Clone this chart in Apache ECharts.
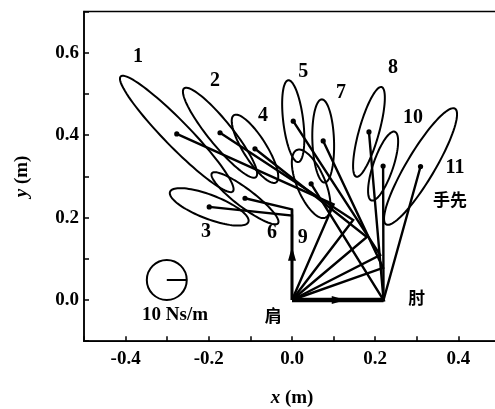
<!DOCTYPE html>
<html><head><meta charset="utf-8">
<script src="https://cdn.jsdelivr.net/npm/echarts@6/dist/echarts.min.js"></script>
<style>html,body{margin:0;padding:0;background:#fff}#c{width:495px;height:409px}</style>
</head><body><div id="c"></div>
<script>
// posture labels
const postureIds = ['1','2','3','4','5','6','7','8','9','10','11'];
// hand positions (m)
const handX = [-0.277,-0.173,-0.199,-0.089,0.003,-0.113,0.075,0.185,0.046,0.219,0.309];
const handY = [0.403,0.406,0.226,0.367,0.434,0.247,0.386,0.408,0.282,0.325,0.324];
// elbow positions (m)
const elbowX = [0.100,0.147,0.000,0.180,0.212,0.000,0.219,0.22,0.22,0.22,0.22];
const elbowY = [0.232,0.194,0.205,0.153,0.109,0.220,0.078,0.0,0.0,0.0,0.0];
// shoulder position (m)
const shoulderX = 0, shoulderY = 0;
// viscosity ellipses: semi-axes (m on plot scale) and orientation (deg)
const ellMajor = [0.194,0.138,0.101,0.096,0.100,0.100,0.101,0.113,0.089,0.088,0.163];
const ellMinor = [0.031,0.029,0.029,0.028,0.024,0.022,0.026,0.024,0.034,0.024,0.034];
const ellAngle = [134,128.7,158.8,121.8,96.9,142.6,92,74.4,112.6,71.4,59.5];
// scale circle: 10 Ns/m
const scaleValue = 10;
const scaleRadius = 0.048;
// axis tick labels
const xTickLabels = ['-0.4','-0.2','0.0','0.2','0.4'];
const yTickLabels = ['0.0','0.2','0.4','0.6'];

// ---- layout (annotation anchors, in data coords) ----
const labelPos = [[-0.37,0.59],[-0.185,0.533],[-0.207,0.165],[-0.07,0.447],[0.027,0.553],[-0.048,0.163],[0.118,0.503],[0.243,0.563],[0.026,0.151],[0.291,0.442],[0.392,0.322]];
const scaleCenter = [-0.301,0.0485];

const FONT = '"Liberation Serif","DejaVu Serif",serif';
const CJK = '"Noto Sans CJK SC","Noto Sans CJK JP",sans-serif';

const annotations = postureIds.map((id,i)=>({pos:labelPos[i], text:id, font:'bold 20px '+FONT}))
  .concat([
    {pos:[scaleCenter[0]+0.02, scaleCenter[1]-0.085], text:scaleValue+' Ns/m', font:'bold 19px '+FONT},
    {pos:[-0.045,-0.037], text:'肩', font:'bold 17px '+CJK},
    {pos:[0.30,0.007], text:'肘', font:'bold 17px '+CJK},
    {pos:[0.38,0.245], text:'手先', font:'bold 17px '+CJK}
  ]);

const chart = echarts.init(document.getElementById('c'));

function ellipseItem(params, api){
  const i = params.dataIndex;
  const cx = handX[i], cy = handY[i], a = ellMajor[i], b = ellMinor[i], th = ellAngle[i]*Math.PI/180;
  const pts = [];
  for(let k=0;k<96;k++){
    const p = k/96*Math.PI*2;
    const x = cx + a*Math.cos(p)*Math.cos(th) - b*Math.sin(p)*Math.sin(th);
    const y = cy + a*Math.cos(p)*Math.sin(th) + b*Math.sin(p)*Math.cos(th);
    pts.push(api.coord([x,y]));
  }
  return {type:'polygon', shape:{points:pts}, style:{fill:null, stroke:'#000', lineWidth:2}};
}

function armItem(params, api){
  const i = params.dataIndex;
  const s = api.coord([shoulderX,shoulderY]);
  const e = api.coord([elbowX[i],elbowY[i]]);
  const h = api.coord([handX[i],handY[i]]);
  return {type:'group', children:[
    {type:'polyline', shape:{points:[s,e,h]}, style:{fill:null, stroke:'#000', lineWidth:2.4}},
    {type:'circle', shape:{cx:h[0], cy:h[1], r:2.6}, style:{fill:'#000'}}
  ]};
}

function arrowItem(params, api){
  const i = params.dataIndex;
  const s = api.coord([shoulderX,shoulderY]);
  const end = i===0 ? api.coord([0.22,0]) : api.coord([0,0.22]);
  const mid = [(s[0]+end[0])/2,(s[1]+end[1])/2];
  const dx = end[0]-s[0], dy = end[1]-s[1], L = Math.hypot(dx,dy);
  const ux = dx/L, uy = dy/L, nx = -uy, ny = ux;
  const tip = [mid[0]+ux*8, mid[1]+uy*8];
  const b1 = [mid[0]-ux*6+nx*4, mid[1]-uy*6+ny*4];
  const b2 = [mid[0]-ux*6-nx*4, mid[1]-uy*6-ny*4];
  return {type:'group', children:[
    {type:'line', shape:{x1:s[0],y1:s[1],x2:end[0],y2:end[1]}, style:{stroke:'#000', lineWidth:i===0?4.5:2.5}},
    {type:'polygon', shape:{points:[tip,b1,b2]}, style:{fill:'#000'}}
  ]};
}

function scaleItem(params, api){
  const c = api.coord(scaleCenter);
  const r = api.coord([scaleCenter[0]+scaleRadius, scaleCenter[1]]);
  const rad = r[0]-c[0];
  return {type:'group', children:[
    {type:'circle', shape:{cx:c[0],cy:c[1],r:rad}, style:{fill:null, stroke:'#000', lineWidth:2}},
    {type:'line', shape:{x1:c[0],y1:c[1],x2:c[0]+rad,y2:c[1]}, style:{stroke:'#000', lineWidth:2}}
  ]};
}

function textItem(params, api){
  const t = annotations[params.dataIndex];
  const p = api.coord(t.pos);
  return {type:'text', x:p[0], y:p[1], style:{text:t.text, font:t.font, fill:'#000', align:'center', verticalAlign:'middle'}};
}

const fmt1 = v => (Math.abs(v)<1e-9?0:v).toFixed(1);

chart.setOption({
  animation:false,
  grid:{left:84, top:11.6, width:416, height:329.6, outerBoundsMode:'none', containLabel:false, show:true, borderColor:'#000', borderWidth:1.5, backgroundColor:'transparent'},
  xAxis:{type:'value', min:-0.5, max:0.5, interval:0.1,
    axisLine:{onZero:false, lineStyle:{color:'#000', width:1.5}},
    axisTick:{inside:true, length:5, lineStyle:{color:'#000', width:1.5}},
    splitLine:{show:false},
    axisLabel:{color:'#000', fontFamily:FONT, fontWeight:'bold', fontSize:19, margin:8,
      formatter:v=>{const s=fmt1(v); return xTickLabels.includes(s)?s:'';}},
    name:'{i|x} (m)', nameLocation:'middle', nameGap:47,
    nameTextStyle:{color:'#000', fontFamily:FONT, fontWeight:'bold', fontSize:19,
      rich:{i:{fontStyle:'italic', fontFamily:FONT, fontWeight:'bold', fontSize:19, color:'#000'}}}
  },
  yAxis:{type:'value', min:-0.1, max:0.7, interval:0.1,
    axisLine:{onZero:false, lineStyle:{color:'#000', width:1.5}},
    axisTick:{inside:true, length:5, lineStyle:{color:'#000', width:1.5}},
    splitLine:{show:false},
    axisLabel:{color:'#000', fontFamily:FONT, fontWeight:'bold', fontSize:19, margin:5,
      formatter:v=>{const s=fmt1(v); return yTickLabels.includes(s)?s:'';}},
    name:'{i|y} (m)', nameLocation:'middle', nameGap:52, nameRotate:90,
    nameTextStyle:{color:'#000', fontFamily:FONT, fontWeight:'bold', fontSize:19,
      rich:{i:{fontStyle:'italic', fontFamily:FONT, fontWeight:'bold', fontSize:19, color:'#000'}}}
  },
  series:[
    {type:'custom', renderItem:ellipseItem, data:postureIds.map((id,i)=>[handX[i],handY[i]]), clip:false, silent:true},
    {type:'custom', renderItem:armItem, data:postureIds.map((id,i)=>[handX[i],handY[i]]), clip:false, silent:true},
    {type:'custom', renderItem:arrowItem, data:[[0.22,0],[0,0.22]], clip:false, silent:true},
    {type:'custom', renderItem:scaleItem, data:[scaleCenter], silent:true},
    {type:'custom', renderItem:textItem, data:annotations.map(a=>a.pos), clip:false, silent:true}
  ]
});
</script></body></html>
